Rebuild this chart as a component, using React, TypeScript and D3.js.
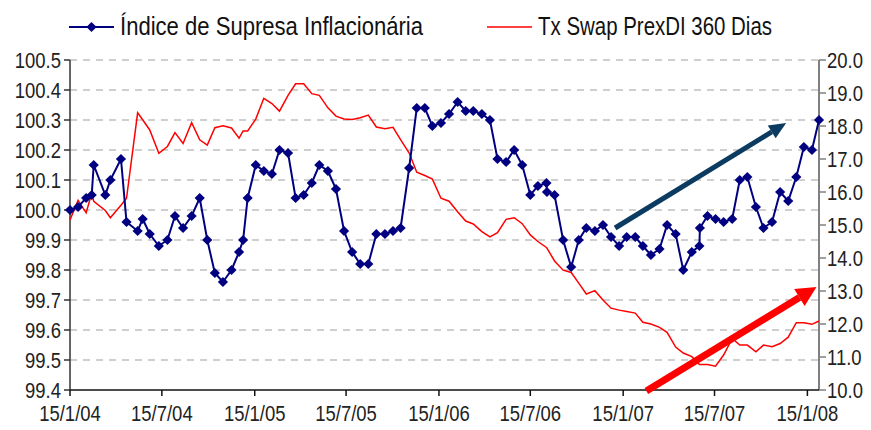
import React from 'react';
import * as d3 from 'd3';

const dates = [
  '2004-01-15', '2004-01-31', '2004-02-16', '2004-02-27', '2004-03-02', '2004-03-25', '2004-04-04',
  '2004-04-25', '2004-05-06', '2004-05-28', '2004-06-07', '2004-06-21', '2004-07-09', '2004-07-26',
  '2004-08-10', '2004-08-26', '2004-09-12', '2004-09-28', '2004-10-13', '2004-10-28', '2004-11-13',
  '2004-11-30', '2004-12-15', '2004-12-23', '2005-01-01', '2005-01-17', '2005-02-02', '2005-02-18',
  '2005-03-05', '2005-03-22', '2005-04-06', '2005-04-22', '2005-05-08', '2005-05-23', '2005-06-09',
  '2005-06-25', '2005-07-11', '2005-07-27', '2005-08-12', '2005-08-28', '2005-09-13', '2005-09-30',
  '2005-10-16', '2005-10-31', '2005-11-17', '2005-12-02', '2005-12-18', '2006-01-02', '2006-01-19',
  '2006-02-04', '2006-02-21', '2006-03-09', '2006-03-24', '2006-04-10', '2006-04-26', '2006-05-11',
  '2006-05-28', '2006-06-13', '2006-06-29', '2006-07-15', '2006-07-30', '2006-08-16', '2006-08-17',
  '2006-09-01', '2006-09-18', '2006-10-04', '2006-10-19', '2006-11-03', '2006-11-20', '2006-12-06',
  '2006-12-22', '2007-01-07', '2007-01-22', '2007-02-08', '2007-02-23', '2007-03-11', '2007-03-28',
  '2007-04-12', '2007-04-29', '2007-05-14', '2007-05-31', '2007-06-15', '2007-06-16', '2007-07-01',
  '2007-07-17', '2007-08-02', '2007-08-19', '2007-09-03', '2007-09-18', '2007-10-05', '2007-10-20',
  '2007-11-06', '2007-11-22', '2007-12-08', '2007-12-24', '2008-01-08', '2008-01-24', '2008-02-07',
];

// Índice de Supresa Inflacionária (left axis)
const surpriseIndex = [
  100.0, 100.01, 100.04, 100.05, 100.15, 100.05, 100.1, 100.17, 99.96, 99.93, 99.97, 99.92, 99.88, 99.9,
  99.98, 99.94, 99.98, 100.04, 99.9, 99.79, 99.76, 99.8, 99.86, 99.9, 100.04, 100.15, 100.13, 100.12,
  100.2, 100.19, 100.04, 100.05, 100.09, 100.15, 100.13, 100.07, 99.93, 99.86, 99.82, 99.82, 99.92, 99.92,
  99.93, 99.94, 100.14, 100.34, 100.34, 100.28, 100.29, 100.32, 100.36, 100.33, 100.33, 100.32, 100.3,
  100.17, 100.16, 100.2, 100.15, 100.05, 100.08, 100.09, 100.06, 100.05, 99.9, 99.81, 99.9, 99.94, 99.93,
  99.95, 99.91, 99.88, 99.91, 99.91, 99.88, 99.85, 99.87, 99.95, 99.92, 99.8, 99.86, 99.88, 99.94, 99.98,
  99.97, 99.96, 99.97, 100.1, 100.11, 100.01, 99.94, 99.96, 100.06, 100.03, 100.11, 100.21, 100.2, 100.3,
];

// Tx Swap PrexDI 360 Dias (right axis)
const swapRate = [
  15.15, 15.75, 15.37, 15.96, 15.72, 15.44, 15.22, 15.6, 15.81, 18.4, 18.19, 17.88, 17.17, 17.38,
  17.8, 17.47, 18.1, 17.58, 17.42, 17.95, 18.01, 17.94, 17.63, 17.85, 17.85, 18.21, 18.84, 18.68,
  18.45, 18.93, 19.28, 19.28, 18.98, 18.93, 18.55, 18.3, 18.21, 18.2, 18.25, 18.33, 17.97, 17.92,
  17.96, 17.59, 17.18, 16.6, 16.5, 16.39, 15.81, 15.72, 15.4, 15.12, 15.03, 14.8, 14.64,
  14.77, 15.17, 15.22, 15.04, 14.7, 14.5, 14.32, 14.3, 13.91, 13.63, 13.56, 13.24, 12.91, 13.01,
  12.73, 12.48, 12.42, 12.38, 12.33, 12.05, 12.0, 11.9, 11.75, 11.3, 11.12, 11.01, 10.77, 10.77, 10.77,
  10.72, 11.06, 11.56, 11.36, 11.36, 11.16, 11.36, 11.31, 11.41, 11.6, 12.04, 12.04, 11.99, 12.09,
];

const xTicks = ['2004-01-15', '2004-07-15', '2005-01-15', '2005-07-15', '2006-01-15', '2006-07-15', '2007-01-15', '2007-07-15', '2008-01-15'];
const leftTicks = [99.4, 99.5, 99.6, 99.7, 99.8, 99.9, 100.0, 100.1, 100.2, 100.3, 100.4, 100.5];
const rightTicks = [10, 11, 12, 13, 14, 15, 16, 17, 18, 19, 20];

// arrows drawn on the chart, [date, value]
const blueArrow = [['2006-12-30', 99.94], ['2007-12-04', 100.29]];
const redArrow = [['2007-03-02', 9.97], ['2008-02-02', 13.12]];

const parse = d3.timeParse('%Y-%m-%d');
const fmtDate = d3.timeFormat('%-d/%-m/%y');
const font = "'Liberation Sans', Arial, sans-serif";

const W = 871, H = 430;
const left = 70, right = 819, top = 60, bottom = 390;
const squeeze = 0.84; // arial narrow look

const arrowShape = (x1, y1, x2, y2, headLen, headW) => {
  const a = Math.atan2(y2 - y1, x2 - x1);
  const bx = x2 - headLen * Math.cos(a), by = y2 - headLen * Math.sin(a);
  const px = Math.sin(a) * headW / 2, py = -Math.cos(a) * headW / 2;
  return { shaft: [x1, y1, bx, by], head: `M${x2},${y2}L${bx + px},${by + py}L${bx - px},${by - py}Z` };
};

const Label = ({ x, y, anchor = 'start', size = 22, children }) => (
  <text transform={`translate(${x},${y}) scale(${squeeze},1)`} textAnchor={anchor} fontSize={size} fill="#222">
    {children}
  </text>
);

export default function App() {
  const pts = dates.map((d, i) => ({ date: parse(d), a: surpriseIndex[i], b: swapRate[i] }));

  const x = d3.scaleTime().domain([parse(dates[0]), parse(dates[dates.length - 1])]).range([left, right]);
  const yL = d3.scaleLinear().domain([99.4, 100.5]).range([bottom, top]);
  const yR = d3.scaleLinear().domain([10, 20]).range([bottom, top]);

  const lineA = d3.line().x((d) => x(d.date)).y((d) => yL(d.a));
  const lineB = d3.line().x((d) => x(d.date)).y((d) => yR(d.b));
  const diamond = d3.symbol().type(d3.symbolSquare).size(52)();

  const ba = arrowShape(x(parse(blueArrow[0][0])), yL(blueArrow[0][1]), x(parse(blueArrow[1][0])), yL(blueArrow[1][1]), 17, 15);
  const ra = arrowShape(x(parse(redArrow[0][0])), yR(redArrow[0][1]), x(parse(redArrow[1][0])), yR(redArrow[1][1]), 20, 20);

  return (
    <svg width={W} height={H} style={{ position: 'absolute', left: 0, top: 0, background: '#fff' }} fontFamily={font}>
      {/* gridlines */}
      {leftTicks.slice(1).map((t) => (
        <line key={t} x1={left} x2={right} y1={yL(t)} y2={yL(t)} stroke="#c0c0c0" strokeWidth={1.5} strokeDasharray="7,6" />
      ))}

      {/* left axis */}
      <line x1={left} x2={left} y1={top} y2={bottom} stroke="#333" strokeWidth={1.5} />
      {leftTicks.map((t) => (
        <g key={t}>
          <line x1={left - 6} x2={left} y1={yL(t)} y2={yL(t)} stroke="#333" strokeWidth={1.5} />
          <Label x={left - 9} y={yL(t) + 8} anchor="end">{d3.format('.1f')(t)}</Label>
        </g>
      ))}

      {/* right axis */}
      <line x1={right} x2={right} y1={top} y2={bottom} stroke="#808080" strokeWidth={2} />
      {rightTicks.map((t) => (
        <g key={t}>
          <line x1={right} x2={right + 7} y1={yR(t)} y2={yR(t)} stroke="#808080" strokeWidth={1.5} />
          <Label x={right + 8} y={yR(t) + 8}>{d3.format('.1f')(t)}</Label>
        </g>
      ))}

      {/* bottom axis */}
      <line x1={left} x2={right} y1={bottom} y2={bottom} stroke="#111" strokeWidth={1.5} />
      {xTicks.map((t) => (
        <g key={t}>
          <line x1={x(parse(t))} x2={x(parse(t))} y1={bottom} y2={bottom + 6} stroke="#111" strokeWidth={1.5} />
          <Label x={x(parse(t))} y={bottom + 31} anchor="middle">{fmtDate(parse(t))}</Label>
        </g>
      ))}

      {/* series */}
      <path d={lineB(pts)} fill="none" stroke="#ff0000" strokeWidth={1.5} />
      <path d={lineA(pts)} fill="none" stroke="#000080" strokeWidth={2} />
      {pts.map((d, i) => (
        <path key={i} d={diamond} transform={`translate(${x(d.date)},${yL(d.a)}) rotate(45)`} fill="#000080" />
      ))}

      {/* arrows */}
      <line x1={ba.shaft[0]} y1={ba.shaft[1]} x2={ba.shaft[2]} y2={ba.shaft[3]} stroke="#0b3b60" strokeWidth={5} />
      <path d={ba.head} fill="#0b3b60" />
      <line x1={ra.shaft[0]} y1={ra.shaft[1]} x2={ra.shaft[2]} y2={ra.shaft[3]} stroke="#ff0000" strokeWidth={7} />
      <path d={ra.head} fill="#ff0000" />

      {/* legend */}
      <line x1={69} x2={114} y1={27} y2={27} stroke="#000080" strokeWidth={2} />
      <path d={diamond} transform="translate(91.5,27) rotate(45)" fill="#000080" />
      <text x={120} y={35} fontSize={25} fill="#111" textLength={303} lengthAdjust="spacingAndGlyphs">Índice de Supresa Inflacionária</text>
      <line x1={487} x2={532} y1={27} y2={27} stroke="#ff0000" strokeWidth={1.5} />
      <text x={538} y={35} fontSize={25} fill="#111" textLength={234} lengthAdjust="spacingAndGlyphs">Tx Swap PrexDI 360 Dias</text>
    </svg>
  );
}
